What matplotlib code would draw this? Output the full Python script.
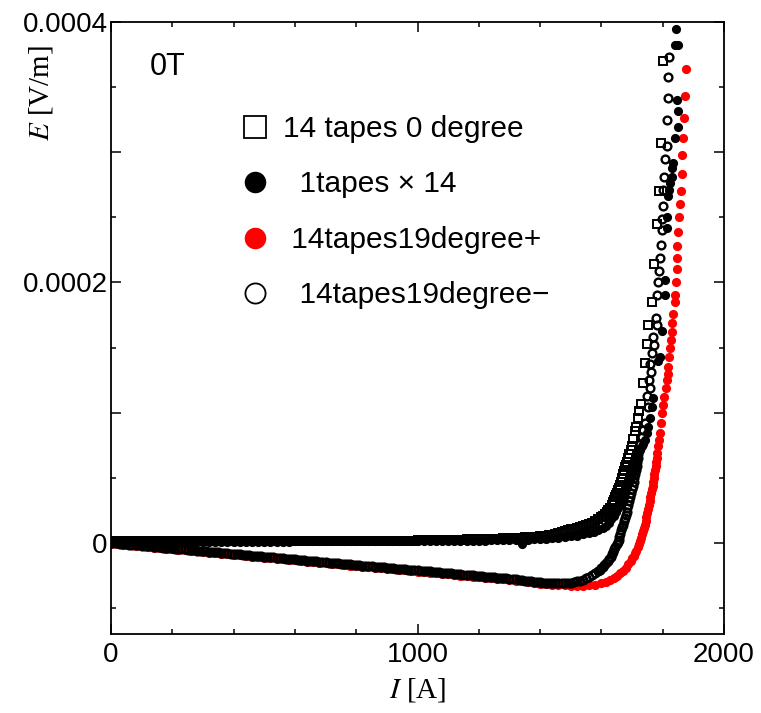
import matplotlib
matplotlib.use("Agg")
import matplotlib.pyplot as plt
from matplotlib.lines import Line2D
from matplotlib.ticker import MultipleLocator, FuncFormatter

# ---------------- data (I in A, E in microvolt/m) ----------------
I_low10 = [0, 10, 20, 30, 40, 50, 60, 70, 80, 90,
           100, 110, 120, 130, 140, 150, 160, 170, 180, 190,
           200, 210, 220, 230, 240, 250, 260, 270, 280, 290,
           300, 310, 320, 330, 340, 350, 360, 370, 380, 390,
           400, 410, 420, 430, 440, 450, 460, 470, 480, 490,
           500, 510, 520, 530, 540, 550, 560, 570, 580, 590,
           600, 610, 620, 630, 640, 650, 660, 670, 680, 690,
           700, 710, 720, 730, 740, 750, 760, 770, 780, 790,
           800, 810, 820, 830, 840, 850, 860, 870, 880, 890,
           900, 910, 920, 930, 940, 950, 960, 970, 980, 990,
           1000, 1010, 1020, 1030, 1040, 1050, 1060, 1070, 1080, 1090,
           1100, 1110, 1120, 1130, 1140, 1150, 1160, 1170, 1180, 1190,
           1200, 1210, 1220, 1230, 1240, 1250, 1260, 1270, 1280, 1290,
           1300, 1310, 1320, 1330, 1340, 1350, 1360, 1370, 1380, 1390,
           1400, 1410, 1420, 1430, 1440, 1450]

I_low20 = [0, 20, 40, 60, 80, 100, 120, 140, 160, 180,
           200, 220, 240, 260, 280, 300, 320, 340, 360, 380,
           400, 420, 440, 460, 480, 500, 520, 540, 560, 580,
           600, 620, 640, 660, 680, 700, 720, 740, 760, 780,
           800, 820, 840, 860, 880, 900, 920, 940, 960, 980,
           1000, 1020, 1040, 1060, 1080, 1100, 1120, 1140, 1160, 1180,
           1200, 1220, 1240, 1260, 1280, 1300, 1320, 1340, 1360, 1380,
           1400, 1420, 1440]

# 14 tapes 0 degree (open squares)
E_sq_low = [1.2, 1.3, 1.4, 1.5, 1.5, 1.5, 1.5, 1.5, 1.5, 1.5,
            1.5, 1.5, 1.5, 1.5, 1.5, 1.5, 1.5, 1.5, 1.5, 1.5,
            1.5, 1.5, 1.5, 1.5, 1.5, 1.5, 1.5, 1.5, 1.5, 1.5,
            1.5, 1.5, 1.5, 1.5, 1.5, 1.5, 1.5, 1.5, 1.5, 1.5,
            1.5, 1.5, 1.5, 1.5, 1.5, 1.5, 1.5, 1.5, 1.5, 1.5,
            1.6, 1.6, 1.6, 1.6, 1.6, 1.6, 1.6, 1.6, 1.6, 1.6,
            1.6, 1.6, 1.6, 1.6, 1.6, 1.6, 1.6, 1.6, 1.6, 1.6,
            1.6, 1.6, 1.6, 1.6, 1.6, 1.6, 1.6, 1.6, 1.6, 1.6,
            1.8, 1.8, 1.8, 1.8, 1.8, 1.8, 1.8, 1.8, 1.8, 1.8,
            1.8, 1.8, 1.8, 1.8, 1.8, 1.8, 1.8, 1.8, 1.8, 1.8,
            2.0, 2.0, 2.0, 2.0, 2.1, 2.1, 2.1, 2.2, 2.2, 2.2,
            2.3, 2.3, 2.4, 2.4, 2.5, 2.5, 2.6, 2.6, 2.7, 2.7,
            2.8, 2.9, 3.0, 3.0, 3.1, 3.2, 3.3, 3.3, 3.4, 3.5,
            3.6, 3.7, 3.8, 4.0, 4.1, 4.2, 4.4, 4.5, 4.7, 4.8,
            5.0, 5.3, 5.6, 6.0, 6.4, 6.9]
I_sq_hi = [1460, 1470, 1480, 1490, 1500, 1510, 1520, 1530, 1540, 1550,
           1560, 1570, 1580, 1590, 1598, 1605, 1612, 1618, 1623, 1628,
           1633, 1637, 1641, 1645, 1649, 1652, 1655, 1658, 1661, 1664,
           1667, 1670, 1673, 1677, 1680, 1683, 1687, 1691, 1696, 1700,
           1703, 1709, 1713, 1719, 1724, 1729, 1736, 1742, 1749, 1752,
           1765, 1772, 1781, 1788, 1795, 1801]
E_sq_hi = [7.5, 8.2, 9.0, 9.7, 10.4, 11.0, 11.6, 12.2, 12.8, 13.5,
           14.2, 15.0, 16.5, 18.0, 19.5, 21.0, 22.5, 24.0, 25.5, 27.0,
           29.0, 31.0, 33.0, 35.0, 37.0, 38.5, 40.5, 42.0, 44.5, 47.0,
           50.0, 52.5, 55.0, 58.0, 60.0, 62.0, 65.0, 68.0, 71.0, 74.0,
           80.0, 86.0, 89.0, 96.0, 101.0, 107.0, 123.0, 138.0, 153.0, 167.0,
           185.0, 214.0, 245.0, 270.0, 307.0, 370.0]

# 1tapes x 14 (filled black dots)
E_dot_low = [0.5, 0.8, 1.0, 1.0, 1.0, 1.0, 1.0, 1.0, 1.0, 1.0,
             1.0, 1.0, 1.0, 1.0, 1.0, 1.0, 1.0, 1.0, 1.0, 1.0,
             1.0, 1.0, 1.0, 1.0, 1.0, 1.0, 1.0, 1.0, 1.0, 1.0,
             1.1, 1.1, 1.1, 1.1, 1.1, 1.1, 1.1, 1.1, 1.1, 1.1,
             1.2, 1.2, 1.2, 1.2, 1.2, 1.2, 1.2, 1.2, 1.2, 1.2,
             1.3, 1.3, 1.3, 1.4, 1.4, 1.4, 1.5, 1.5, 1.6, 1.6,
             1.7, 1.8, 1.9, 2.0, 2.1, 2.2, 2.3, -1.2, 2.5, 2.7,
             2.9, 3.2, 3.5]
I_dot_hi = [1460, 1480, 1500, 1520, 1540, 1560, 1575, 1590, 1605, 1615,
            1625, 1632, 1640, 1647, 1653, 1660, 1666, 1672, 1678, 1684,
            1690, 1695, 1700, 1705, 1710, 1715, 1720, 1726, 1732, 1736,
            1742, 1749, 1752, 1759, 1765, 1768, 1785, 1791, 1798, 1808,
            1808, 1814, 1814, 1817, 1821, 1824, 1830, 1830, 1834, 1840,
            1850, 1850, 1846, 1841, 1849, 1843]
E_dot_hi = [4.0, 4.5, 5.0, 5.5, 6.5, 7.5, 8.5, 10.0, 11.5, 13.0,
            15.5, 18.0, 21.0, 24.0, 27.0, 30.0, 33.0, 36.5, 40.0, 43.0,
            46.5, 50.0, 53.0, 56.5, 60.0, 63.5, 67.0, 71.0, 74.0, 76.0,
            79.0, 84.0, 89.0, 96.0, 104.0, 111.0, 140.0, 143.0, 163.0, 190.0,
            202.0, 242.0, 250.0, 266.0, 271.0, 276.0, 281.0, 288.0, 292.0, 311.0,
            319.0, 332.0, 340.0, 382.0, 382.0, 395.0]

# 14tapes19degree+ (filled red dots)
E_red_low = [-0.6, -1.0, -1.5, -1.9, -2.3, -2.8, -3.2, -3.6, -4.0, -4.5,
             -4.9, -5.3, -5.8, -6.2, -6.6, -7.1, -7.5, -7.9, -8.3, -8.8,
             -9.2, -9.6, -10.1, -10.5, -10.9, -11.4, -11.8, -12.2, -12.6, -13.1,
             -13.5, -13.9, -14.4, -14.8, -15.2, -15.7, -16.1, -16.5, -16.9, -17.4,
             -17.8, -18.2, -18.7, -19.1, -19.5, -20.0, -20.4, -20.8, -21.2, -21.7,
             -22.1, -22.5, -23.0, -23.4, -23.8, -24.3, -24.7, -25.1, -25.5, -26.0,
             -26.4, -26.8, -27.3, -27.7, -28.1, -28.6, -29.0, -29.6, -30.2, -30.8,
             -31.3, -31.7, -32.1]
I_red_hi = [1460, 1480, 1500, 1520, 1540, 1560, 1580, 1600, 1615, 1628,
            1640, 1650, 1661, 1670, 1680, 1688, 1695, 1700, 1705, 1710,
            1714, 1718, 1722, 1726, 1729, 1732, 1735, 1738, 1741, 1744,
            1747, 1750, 1752, 1755, 1757, 1760, 1762, 1765, 1767, 1769,
            1771, 1773, 1775, 1777, 1779, 1781, 1783, 1785, 1788, 1791,
            1794, 1798, 1801, 1804, 1811, 1814, 1817, 1817, 1820, 1824,
            1827, 1830, 1830, 1834, 1840, 1840, 1843, 1847, 1847, 1847,
            1850, 1853, 1856, 1860, 1863, 1863, 1866, 1869, 1873, 1876]
E_red_hi = [-32.4, -32.7, -32.9, -33.0, -33.0, -32.7, -32.2, -31.0, -30.0, -28.5,
            -27.0, -25.5, -23.5, -21.5, -19.0, -16.5, -14.0, -12.0, -10.0, -8.0,
            -6.0, -3.5, -1.0, 1.5, 4.0, 6.5, 9.0, 11.5, 14.0, 17.0,
            20.0, 23.0, 26.0, 29.0, 32.0, 35.0, 38.0, 41.0, 44.0, 47.0,
            50.0, 53.0, 56.0, 59.0, 62.0, 65.0, 69.0, 74.0, 79.0, 84.0,
            92.0, 100.0, 106.0, 112.0, 119.0, 125.0, 130.0, 135.0, 143.0, 150.0,
            156.0, 162.0, 169.0, 176.0, 185.0, 190.0, 200.0, 210.0, 219.0, 228.0,
            239.0, 250.0, 260.0, 270.0, 283.0, 298.0, 311.0, 326.0, 343.0, 364.0]

# 14tapes19degree- (open circles)
E_circ_low = [0.0, -0.2, -0.4, -0.6, -0.8, -1.1, -1.3, -1.5, -1.7, -1.9,
              -2.1, -2.3, -2.5, -2.8, -3.0, -3.2, -3.4, -3.6, -3.8, -4.0,
              -4.2, -4.5, -4.7, -4.9, -5.1, -5.3, -5.5, -5.7, -5.9, -6.1,
              -6.4, -6.6, -6.8, -7.0, -7.2, -7.4, -7.6, -7.8, -8.1, -8.3,
              -8.5, -8.7, -8.9, -9.1, -9.3, -9.5, -9.8, -10.0, -10.2, -10.4,
              -10.6, -10.8, -11.0, -11.2, -11.4, -11.7, -11.9, -12.1, -12.3, -12.5,
              -12.7, -12.9, -13.1, -13.4, -13.6, -13.8, -14.0, -14.2, -14.4, -14.6,
              -14.8, -15.1, -15.3, -15.5, -15.7, -15.9, -16.1, -16.3, -16.5, -16.7,
              -17.0, -17.2, -17.4, -17.6, -17.8, -18.0, -18.2, -18.4, -18.7, -18.9,
              -19.1, -19.3, -19.5, -19.7, -19.9, -20.1, -20.4, -20.6, -20.8, -21.0,
              -21.2, -21.4, -21.6, -21.8, -22.0, -22.3, -22.5, -22.7, -22.9, -23.1,
              -23.3, -23.5, -23.7, -24.0, -24.2, -24.4, -24.6, -24.8, -25.0, -25.2,
              -25.4, -25.7, -25.9, -26.1, -26.3, -26.5, -26.7, -26.9, -27.1, -27.3,
              -27.6, -27.8, -28.1, -28.4, -28.7, -29.0, -29.3, -29.6, -29.9, -30.1,
              -30.3, -30.5, -30.7, -30.8, -30.9, -31.0]
I_circ_hi = [1460, 1470, 1480, 1490, 1500, 1510, 1520, 1530, 1540, 1550,
             1560, 1570, 1580, 1590, 1595, 1600, 1605, 1610, 1615, 1620,
             1625, 1630, 1634, 1638, 1642, 1646, 1650, 1653, 1656, 1659,
             1662, 1665, 1668, 1670, 1673, 1676, 1679, 1682, 1685, 1688,
             1691, 1694, 1697, 1700, 1702, 1705, 1707, 1710, 1712, 1715,
             1717, 1719, 1721, 1723, 1726, 1732, 1736, 1742, 1752, 1749,
             1759, 1755, 1762, 1759, 1765, 1772, 1768, 1781, 1778, 1781,
             1785, 1788, 1791, 1795, 1798, 1798, 1801, 1801, 1804, 1808,
             1814, 1814, 1817, 1817, 1821]
E_circ_hi = [-31.1, -31.1, -31.0, -30.8, -30.5, -30.1, -29.6, -29.0, -28.2, -27.3,
             -26.2, -24.9, -23.4, -21.6, -20.6, -19.5, -18.3, -17.0, -15.6, -14.0,
             -12.3, -10.5, -8.8, -7.0, -5.0, -3.0, -1.0, 0.5, 2.5, 4.5,
             7.0, 9.5, 12.0, 14.0, 16.5, 19.0, 21.5, 24.0, 26.5, 29.0,
             32.0, 35.0, 38.0, 41.0, 44.0, 47.0, 50.0, 53.0, 56.0, 59.0,
             62.0, 65.0, 68.0, 71.0, 76.0, 81.0, 87.0, 92.0, 104.0, 113.0,
             119.0, 125.0, 131.0, 137.0, 146.0, 152.0, 158.0, 167.0, 173.0, 190.0,
             200.0, 209.0, 219.0, 229.0, 240.0, 249.0, 259.0, 271.0, 281.0, 295.0,
             305.0, 325.0, 342.0, 358.0, 373.0]

labels = ["14 tapes 0 degree", "  1tapes \u00d7 14", " 14tapes19degree+", "  14tapes19degree\u2212"]
y_ticks_labeled = [0.0, 0.0002, 0.0004]

assert len(I_low10) == len(E_sq_low) == len(E_circ_low)
assert len(I_low20) == len(E_dot_low) == len(E_red_low)
assert len(I_sq_hi) == len(E_sq_hi)
assert len(I_dot_hi) == len(E_dot_hi)
assert len(I_red_hi) == len(E_red_hi)
assert len(I_circ_hi) == len(E_circ_hi)

# ---------------- plotting ----------------
plt.rcParams['font.family'] = ['Liberation Sans', 'DejaVu Sans']
plt.rcParams['mathtext.fontset'] = 'stix'

U = 1e-6  # microvolt -> volt
fig = plt.figure(figsize=(7.61, 7.13), dpi=100)
ax = fig.add_axes([111 / 761, 1 - 634 / 713, 613 / 761, 612 / 713])

I_red = I_low20 + I_red_hi
E_red = [e * U for e in E_red_low + E_red_hi]
I_dot = I_low20 + I_dot_hi
E_dot = [e * U for e in E_dot_low + E_dot_hi]
I_circ = I_low10 + I_circ_hi
E_circ = [e * U for e in E_circ_low + E_circ_hi]
I_sq = I_low10 + I_sq_hi
E_sq = [e * U for e in E_sq_low + E_sq_hi]

ax.plot(I_red, E_red, 'o', ls='none', color='#ff0000', ms=6.6, mew=0, zorder=2)
ax.plot(I_dot, E_dot, 'o', ls='none', color='black', ms=6.6, mew=0, zorder=3)
ax.plot(I_circ, E_circ, 'o', ls='none', mfc='none', mec='black', ms=5.6, mew=1.7, zorder=4)
ax.plot(I_sq, E_sq, 's', ls='none', mfc='none', mec='black', ms=5.6, mew=1.4, zorder=5)

ax.set_xlim(0, 2000)
ax.set_ylim(-0.00007, 0.0004)
ax.xaxis.set_major_locator(MultipleLocator(1000))
ax.xaxis.set_minor_locator(MultipleLocator(200))
ax.yaxis.set_major_locator(MultipleLocator(0.0001))
ax.yaxis.set_minor_locator(MultipleLocator(0.00005))


def yfmt(v, pos):
    for t in y_ticks_labeled:
        if abs(v - t) < 1e-9:
            return "0" if t == 0 else f"{t:.4f}"
    return ""


ax.yaxis.set_major_formatter(FuncFormatter(yfmt))
ax.xaxis.set_major_formatter(FuncFormatter(lambda v, p: f"{v:.0f}"))
ax.tick_params(which='both', direction='in', top=True, right=True, width=1.1, colors='black')
ax.tick_params(which='major', length=7, labelsize=20, pad=6)
ax.tick_params(which='minor', length=3.8)
ax.tick_params(axis='y', which='major', pad=2.5)
for s in ax.spines.values():
    s.set_linewidth(1.3)

ax.set_xlabel("$I$ [A]", fontsize=21, family='Liberation Serif')
ax.xaxis.set_label_coords(0.5, -0.0915)
ax.xaxis.label.set_va('center')
ax.set_ylabel("$E$ [V/m]", fontsize=21, family='Liberation Serif')
ax.yaxis.set_label_coords(-0.114, 0.884)
ax.yaxis.label.set_va('center')
ax.yaxis.label.set_ha('center')

ax.text(0.064, 0.926, "0T", transform=ax.transAxes, fontsize=22, va='center', ha='left')

handles = [
    Line2D([], [], marker='s', ls='none', mfc='white', mec='black', ms=15.5, mew=1.3),
    Line2D([], [], marker='o', ls='none', mfc='black', mec='black', ms=15.5, mew=0),
    Line2D([], [], marker='o', ls='none', mfc='#ff0000', mec='#ff0000', ms=15.5, mew=0),
    Line2D([], [], marker='o', ls='none', mfc='white', mec='black', ms=14.5, mew=1.3),
]
leg = ax.legend(handles, labels, loc='upper left', bbox_to_anchor=(0.2104, 0.848),
                frameon=False, fontsize=21.5, borderpad=0, borderaxespad=0,
                handlelength=1.0, handletextpad=0.45, labelspacing=0.92)

fig.savefig("out.png", dpi=100)
